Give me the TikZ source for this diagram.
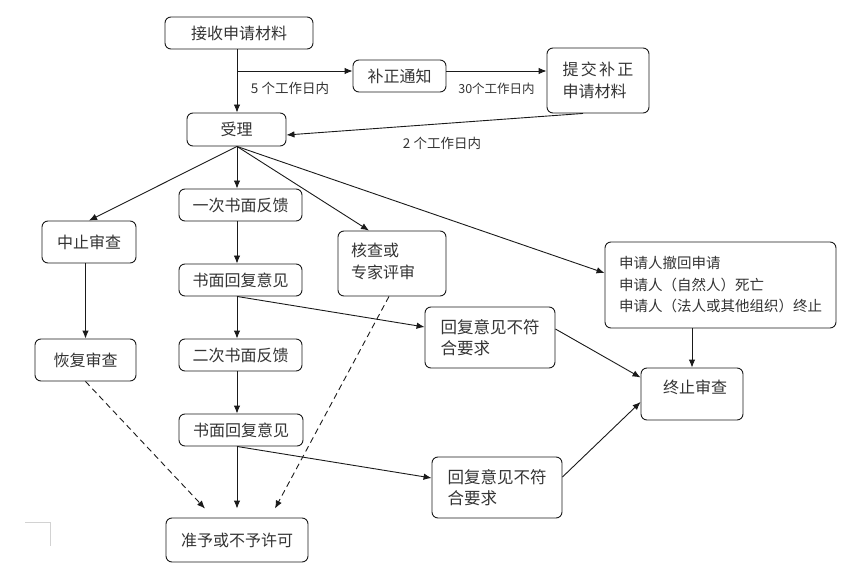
\documentclass[tikz,border=0pt]{standalone}
\usepackage{fontspec}
\setmainfont{Noto Sans CJK SC}
\usetikzlibrary{arrows.meta}
\definecolor{ink}{HTML}{333333}
\definecolor{edge}{HTML}{1A1A1A}
\tikzset{
  box/.style={draw=edge, line width=0.9pt, rounded corners=6pt, inner sep=0pt,
    text=ink, align=left, font=\fontsize{16pt}{21pt}\selectfont},
  lbl/.style={text=ink, inner sep=0pt, align=left},
  arr/.style={draw=edge, line width=0.9pt, -{Latex[length=8pt,width=6.5pt]}},
  darr/.style={arr, dash pattern=on 6pt off 4pt},
}
\begin{document}
\begin{tikzpicture}[x=1pt,y=-1pt]
\useasboundingbox (0,0) rectangle (860,564);
% boxes
\node[box, minimum width=148pt, minimum height=32pt] (recv) at (239,33) {接收申请材料};
\node[box, minimum width=93pt, minimum height=32pt] (notice) at (399.5,76) {补正通知};
\node[box, minimum width=102pt, minimum height=65pt, font=\fontsize{16pt}{22pt}\selectfont] (resubmit) at (598,80.5)
  {提\hspace{2.3pt}交\hspace{2.3pt}补\hspace{2.3pt}正\\申请材料};
\node[box, minimum width=99pt, minimum height=33pt] (accept) at (236.5,129.5) {受理};
\node[box, minimum width=94pt, minimum height=42pt] (suspend) at (89,242) {中止审查};
\node[box, minimum width=123pt, minimum height=32pt] (fb1) at (240.5,205) {一次书面反馈};
\node[box, minimum width=108pt, minimum height=65pt] (check) at (392,263.5) {};
\node[lbl, anchor=west, font=\fontsize{16pt}{22pt}\selectfont] (checktxt) at (351,261) {核查或\\专家评审};
\node[box, minimum width=123pt, minimum height=32pt] (reply1) at (240.5,280) {书面回复意见};
\node[box, minimum width=231pt, minimum height=86pt, font=\fontsize{14.5pt}{21.5pt}\selectfont] (withdraw) at (720.5,285)
  {申请人撤回申请\\申请人（自然人）死亡\\申请人（法人或其他组织）终止};
\node[box, minimum width=130pt, minimum height=61pt, font=\fontsize{16.5pt}{20.5pt}\selectfont] (bad1) at (490,337.5) {回复意见不符\\合要求};
\node[box, minimum width=101pt, minimum height=42pt] (resume) at (85.5,360) {恢复审查};
\node[box, minimum width=123pt, minimum height=32pt] (fb2) at (240.5,355) {二次书面反馈};
\node[box, minimum width=102pt, minimum height=52pt] (term) at (692,394) {};
\node[lbl, font=\fontsize{16pt}{21pt}\selectfont] (termtxt) at (695,387) {终止审查};
\node[box, minimum width=124pt, minimum height=32pt] (reply2) at (241,430) {书面回复意见};
\node[box, minimum width=130pt, minimum height=61pt, font=\fontsize{16.5pt}{20.5pt}\selectfont] (bad2) at (497,487.5) {回复意见不符\\合要求};
\node[box, minimum width=142pt, minimum height=44pt] (grant) at (237,540) {准予或不予许可};
% helper coordinates
\coordinate (sp) at (237,0);
\coordinate (br) at (237,71);
\coordinate (g1) at ([xshift=-32pt,yshift=9pt]grant.north);
\coordinate (g2) at ([yshift=9pt]grant.north);
\coordinate (g3) at ([xshift=38pt,yshift=9pt]grant.north);
% labels
\node[lbl, font=\fontsize{13.5pt}{16pt}\selectfont] (l5) at (290,88) {5 个工作日内};
\node[lbl, font=\fontsize{12.5pt}{15pt}\selectfont] (l30) at (496.5,89) {30个工作日内};
\node[lbl, font=\fontsize{13.5pt}{16pt}\selectfont] (l2) at (442,143) {2 个工作日内};
% connectors
\draw[arr] (recv.south -| sp) -- (accept.north -| sp);
\draw[arr] (br) -- (br -| notice.west);
\draw[arr] (br -| notice.east) -- (br -| resubmit.west);
\draw[arr] ([xshift=-15pt]resubmit.south) -- ([yshift=-5.5pt]accept.east);
\draw[arr] (accept.south -| sp) -- (suspend.north);
\draw[arr] (accept.south -| sp) -- (fb1.north -| sp);
\draw[arr] (accept.south -| sp) -- ([xshift=-23pt]check.north);
\draw[arr] (accept.south -| sp) -- ([yshift=12pt]withdraw.west);
\draw[arr] (fb1.south -| sp) -- (reply1.north -| sp);
\draw[arr] (reply1.south -| sp) -- (fb2.north -| sp);
\draw[arr] (reply1.south -| sp) -- ([yshift=10.5pt]bad1.west);
\draw[arr] (fb2.south -| sp) -- (reply2.north -| sp);
\draw[arr] (reply2.south -| sp) -- (g2);
\draw[arr] (reply2.south -| sp) -- ([yshift=9.5pt]bad2.west);
\draw[arr] (resume.north |- suspend.south) -- (resume.north);
\draw[darr] (resume.south) -- (g1);
\draw[darr] ([xshift=-3pt]check.south) -- (g3);
\draw[arr] (withdraw.south -| term.north) -- (term.north);
\draw[arr] ([yshift=8.5pt]bad1.east) -- ([yshift=16.5pt]term.west);
\draw[arr] ([yshift=10.5pt]bad2.east) -- ([yshift=-8pt]term.west);
% page corner mark
\draw[gray!35, line width=0.8pt] (25,522) -- (50,522) -- (50,546);
\end{tikzpicture}
\end{document}
